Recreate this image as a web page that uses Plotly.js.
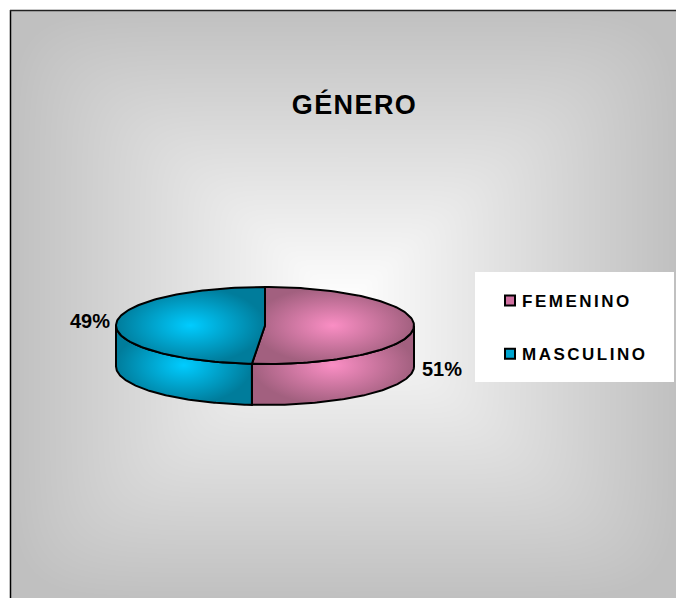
<!DOCTYPE html>
<html><head><meta charset="utf-8">
<script src="https://cdn.plot.ly/plotly-3.0.1.min.js"></script>
<style>
html,body{margin:0;padding:0;background:#fff;overflow:hidden}
.gtitle{letter-spacing:1.4px}
.legendtext{letter-spacing:2.5px;transform:translate(-8px,0)}
</style></head><body>
<div id="chart" style="width:676px;height:598px"></div>
<script>
const chartTitle = 'GÉNERO';
const categories = ['FEMENINO', 'MASCULINO'];
const values = [51.4, 48.6];
const colorsCenter = ['#FA8EC4', '#00CCFF'];
const colorsEdge = ['#A2607F', '#007C9B'];
const colorsSwatch = ['#D070A0', '#00A5D0'];

// Pie geometry in page pixels: oblique disc
const W = 676, H = 598;
const cx = 265, cy = 325.5, rx = 149, ry = 38.5, depth = 41;
const total = values.reduce((a, b) => a + b, 0);
const pct = values.map(v => Math.round(v / total * 100));

function arc(a0, a1, dy) {
  const xs = [], ys = [];
  const n = 120;
  for (let i = 0; i <= n; i++) {
    const a = a0 + (a1 - a0) * i / n;
    xs.push(cx + rx * Math.sin(a));
    ys.push(cy - ry * Math.cos(a) + dy);
  }
  return [xs, ys];
}
const split = 2 * Math.PI * values[0] / total;
const spans = [[0, split], [split, 2 * Math.PI]];
// visible parts of each slice's wall: lower half of the ellipse
const walls = [[Math.PI / 2, split], [split, 3 * Math.PI / 2]];

const traces = [];
function grad(i) {
  return {type: 'radial', colorscale: [[0, colorsCenter[i]], [1, colorsEdge[i]]]};
}
walls.forEach((w, i) => {
  const [x0, y0] = arc(w[0], w[1], 0);
  const [x1, y1] = arc(w[1], w[0], depth);
  traces.push({
    x: x0.concat(x1, [x0[0]]), y: y0.concat(y1, [y0[0]]),
    mode: 'lines', fill: 'toself', fillgradient: grad(i),
    line: {color: '#000', width: 2}, showlegend: false, hoverinfo: 'skip'
  });
});
spans.forEach((s, i) => {
  const [xa, ya] = arc(s[0], s[1], 0);
  traces.push({
    x: [cx].concat(xa, [cx]), y: [cy].concat(ya, [cy]),
    mode: 'lines', fill: 'toself', fillgradient: grad(i),
    line: {color: '#000', width: 2}, showlegend: false, hoverinfo: 'skip'
  });
});
categories.forEach((c, i) => {
  traces.push({
    x: [null], y: [null], name: c, mode: 'markers', legendgroup: c,
    marker: {symbol: 'square', size: 10, color: colorsSwatch[i], line: {color: '#000', width: 2}},
    hoverinfo: 'skip'
  });
});

// Background: rectangular "from centre" grey gradient
function backdrop() {
  const w = 666, h = 588;
  const cv = document.createElement('canvas');
  cv.width = w; cv.height = h;
  const ctx = cv.getContext('2d');
  const img = ctx.createImageData(w, h);
  for (let y = 0; y < h; y++) for (let x = 0; x < w; x++) {
    const u = Math.abs(x - w / 2) / (w / 2), v = Math.abs(y - h / 2) / (h / 2);
    const t = Math.min(1, Math.pow(Math.pow(u, 9) + Math.pow(v, 9), 1 / 9));
    const g = 255 - 63 * t;
    const k = (y * w + x) * 4;
    img.data[k] = img.data[k + 1] = img.data[k + 2] = g;
    img.data[k + 3] = 255;
  }
  ctx.putImageData(img, 0, 0);
  return cv.toDataURL('image/png');
}

const font = {family: '"Liberation Sans", Arial, sans-serif', color: '#000'};
const layout = {
  width: W, height: H,
  margin: {l: 0, r: 0, t: 0, b: 0},
  paper_bgcolor: '#fff', plot_bgcolor: 'rgba(0,0,0,0)',
  xaxis: {range: [0, W], visible: false, fixedrange: true},
  yaxis: {range: [H, 0], visible: false, fixedrange: true},
  font: font,
  title: {
    text: '<b>' + chartTitle + '</b>',
    font: Object.assign({}, font, {size: 27}),
    x: 354.5 / W, xanchor: 'center', y: 1 - 105 / H, yanchor: 'middle'
  },
  images: [{
    source: backdrop(), xref: 'paper', yref: 'paper',
    x: 10 / W, y: 1 - 10 / H, sizex: 666 / W, sizey: 588 / H,
    xanchor: 'left', yanchor: 'top', sizing: 'stretch', layer: 'below'
  }],
  shapes: [
    {type: 'rect', xref: 'x', yref: 'y', x0: 475, x1: 674, y0: 272, y1: 382,
     fillcolor: '#fff', line: {width: 0}, layer: 'below'},
    {type: 'line', xref: 'x', yref: 'y', x0: 10.5, x1: 10.5, y0: 10, y1: 598, line: {color: '#000', width: 1.5}},
    {type: 'line', xref: 'x', yref: 'y', x0: 10, x1: 676, y0: 10.5, y1: 10.5, line: {color: '#222', width: 1.5}}
  ],
  annotations: [
    {x: 90, y: 321, xref: 'x', yref: 'y', text: '<b>' + pct[1] + '%</b>', showarrow: false, font: {size: 20}},
    {x: 442, y: 369, xref: 'x', yref: 'y', text: '<b>' + pct[0] + '%</b>', showarrow: false, font: {size: 20}}
  ],
  showlegend: true,
  legend: {
    x: 490 / W, y: 1 - 283 / H, xanchor: 'left', yanchor: 'top',
    bgcolor: 'rgba(0,0,0,0)', borderwidth: 0, tracegroupgap: 28,
    itemsizing: 'trace', itemwidth: 30, itemclick: false, itemdoubleclick: false,
    font: Object.assign({}, font, {size: 17, weight: 700})
  }
};
Plotly.newPlot('chart', traces, layout, {displayModeBar: false, staticPlot: true});
</script>
</body></html>
